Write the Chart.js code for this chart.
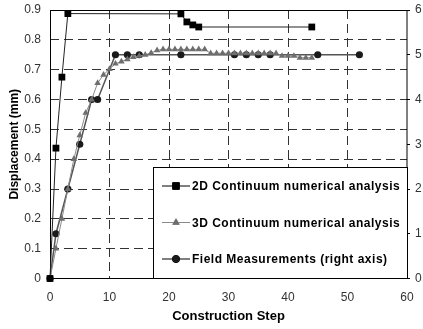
<!DOCTYPE html>
<html>
<head>
<meta charset="utf-8">
<script src="https://cdn.jsdelivr.net/npm/chart.js@4"></script>
<style>
  body { margin: 0; background: #fff; }
  canvas { display: block; }
</style>
</head>
<body>
<canvas id="chart" width="423" height="329"></canvas>
<script>
// 2D continuum numerical analysis (left axis, mm)
const steps2D = [0, 1, 2, 3, 22, 23, 24, 25, 44];
const disp2D = [0, 0.437, 0.675, 0.888, 0.887, 0.86, 0.85, 0.843, 0.843];

// 3D continuum numerical analysis (left axis, mm)
const steps3D = [0, 1, 2, 3, 4, 5, 6, 7, 8, 9, 10, 11, 12, 13, 14, 15, 16, 17, 18, 19, 20, 21,
  22, 23, 24, 25, 26, 27, 28, 29, 30, 31, 32, 33, 34, 35, 36, 37, 38, 39, 40, 41, 42, 43, 44];
const disp3D = [0, 0.10, 0.20, 0.30, 0.40, 0.48, 0.555, 0.60, 0.655, 0.683, 0.702, 0.72, 0.727,
  0.735, 0.742, 0.746, 0.75, 0.756, 0.765, 0.768, 0.768, 0.768, 0.768, 0.768, 0.768, 0.768, 0.768,
  0.755, 0.755, 0.755, 0.755, 0.755, 0.755, 0.755, 0.755, 0.755, 0.755, 0.755, 0.755,
  0.746, 0.746, 0.746, 0.74, 0.74, 0.74];

// Field measurements (right axis)
const stepsField = [0, 1, 3, 5, 7, 8, 11, 13, 15, 22, 31, 33, 35, 37, 45, 52];
const valField = [0, 1, 2, 3, 4, 4, 5, 5, 5, 5, 5, 5, 5, 5, 5, 5];

const xTicks = [0, 10, 20, 30, 40, 50, 60];
const seriesNames = ['2D Continuum numerical analysis', '3D Continuum numerical analysis', 'Field Measurements (right axis)'];

function toPoints(xs, ys) {
  return xs.map((x, i) => ({ x: x, y: ys[i] }));
}

const tickFont = { family: 'Liberation Sans, Arial, sans-serif', size: 12 };
const titleFont = { family: 'Liberation Sans, Arial, sans-serif', size: 12, weight: 'bold' };

// solid frame around the plot
const framePlugin = {
  id: 'frame',
  beforeDatasetsDraw(chart) {
    const a = chart.chartArea;
    const ctx = chart.ctx;
    ctx.save();
    ctx.strokeStyle = '#000';
    ctx.lineWidth = 1;
    ctx.strokeRect(a.left + 0.5, a.top + 0.5, a.right - a.left - 0.5, a.bottom - a.top - 0.5);
    ctx.restore();
  }
};

// boxed legend inside the plot, bottom right
const boxLegend = {
  id: 'boxLegend',
  afterDatasetsDraw(chart) {
    const a = chart.chartArea;
    const ctx = chart.ctx;
    const left = 153, top = 167, right = a.right + 1, bottom = a.bottom;
    ctx.save();
    ctx.fillStyle = '#fff';
    ctx.fillRect(left, top, right - left, bottom - top);
    ctx.strokeStyle = '#000';
    ctx.lineWidth = 1;
    ctx.strokeRect(left + 0.5, top + 0.5, right - left - 1, bottom - top - 0.5);
    const rows = [19, 55.5, 92];
    chart.data.datasets.forEach((ds, i) => {
      const y = top + rows[i];
      ctx.strokeStyle = ds.legendLine;
      ctx.lineWidth = 1;
      ctx.beginPath();
      ctx.moveTo(left + 9, y);
      ctx.lineTo(left + 37, y);
      ctx.stroke();
      Chart.helpers.drawPoint(ctx, {
        pointStyle: ds.pointStyle,
        radius: ds.pointRadius,
        rotation: 0,
        borderWidth: 1
      }, left + 23, y);
      ctx.fillStyle = ds.pointBackgroundColor;
      ctx.fill();
      ctx.fillStyle = '#000';
      ctx.font = 'bold 12px "Liberation Sans", Arial, sans-serif';
      ctx.letterSpacing = '0.5px';
      ctx.textBaseline = 'middle';
      ctx.fillText(ds.label, left + 39, y + 1);
      ctx.letterSpacing = '0px';
    });
    ctx.restore();
  }
};

function gridColor(ctx) {
  const v = ctx.tick ? ctx.tick.value : null;
  if (ctx.index === 0) return 'rgba(0,0,0,0)';
  if (ctx.scale.max !== undefined && Math.abs(v - ctx.scale.max) < 1e-9) return 'rgba(0,0,0,0)';
  return '#333';
}

new Chart(document.getElementById('chart'), {
  type: 'line',
  data: {
    datasets: [{
      label: seriesNames[0],
      data: toPoints(steps2D, disp2D),
      yAxisID: 'y',
      borderColor: '#222',
      borderWidth: 1,
      pointStyle: 'rect',
      pointRadius: 4.8,
      pointBackgroundColor: '#000',
      pointBorderColor: '#000',
      pointBorderWidth: 0,
      legendLine: '#000',
      clip: false
    }, {
      label: seriesNames[1],
      data: toPoints(steps3D, disp3D),
      yAxisID: 'y',
      borderColor: '#8a8a8a',
      borderWidth: 1,
      pointStyle: 'triangle',
      pointRadius: 3.8,
      pointBackgroundColor: '#6e6e6e',
      pointBorderColor: '#6e6e6e',
      pointBorderWidth: 0,
      legendLine: '#8a8a8a',
      clip: false
    }, {
      label: seriesNames[2],
      data: toPoints(stepsField, valField),
      yAxisID: 'y1',
      borderColor: '#555',
      borderWidth: 1.5,
      pointStyle: 'circle',
      pointRadius: 3.6,
      pointBackgroundColor: '#1a1a1a',
      pointBorderColor: '#1a1a1a',
      pointBorderWidth: 0,
      legendLine: '#000',
      clip: false
    }]
  },
  options: {
    responsive: false,
    animation: false,
    devicePixelRatio: 1,
    layout: { padding: { top: 10, left: 0, right: 0, bottom: 0 } },
    plugins: {
      legend: { display: false },
      tooltip: { enabled: false }
    },
    scales: {
      x: {
        type: 'linear',
        min: 0,
        max: 60,
        afterBuildTicks: (scale) => { scale.ticks = xTicks.map(v => ({ value: v })); },
        afterFit: (scale) => { scale.height = 50.5; scale.paddingLeft = 0; scale.paddingRight = 0; },
        grid: { color: gridColor, lineWidth: 1, drawTicks: false },
        border: { display: false, dash: [9, 5] },
        ticks: { font: tickFont, color: '#333', padding: 12, maxRotation: 0 },
        title: { display: true, text: 'Construction Step', font: { family: 'Liberation Sans, Arial, sans-serif', size: 13, weight: 'bold' }, color: '#000', padding: { top: 0, bottom: 5 } }
      },
      y: {
        position: 'left',
        min: 0,
        max: 0.9,
        afterFit: (scale) => { scale.width = 50; scale.paddingTop = 0; scale.paddingBottom = 0; },
        grid: { color: gridColor, lineWidth: 1, drawTicks: false },
        border: { display: false, dash: [9, 5] },
        ticks: { stepSize: 0.1, font: tickFont, color: '#333', padding: 9 },
        title: { display: true, text: 'Displacement (mm)', font: titleFont, color: '#000', padding: { top: 7, bottom: 0 } }
      },
      y1: {
        position: 'right',
        min: 0,
        max: 6,
        afterFit: (scale) => { scale.width = 16; scale.paddingTop = 0; scale.paddingBottom = 0; },
        grid: { drawOnChartArea: false, drawTicks: true, tickLength: 3, tickColor: '#000' },
        border: { display: false },
        ticks: { stepSize: 1, font: tickFont, color: '#333', padding: 5 }
      }
    }
  },
  plugins: [framePlugin, boxLegend]
});
</script>
</body>
</html>
